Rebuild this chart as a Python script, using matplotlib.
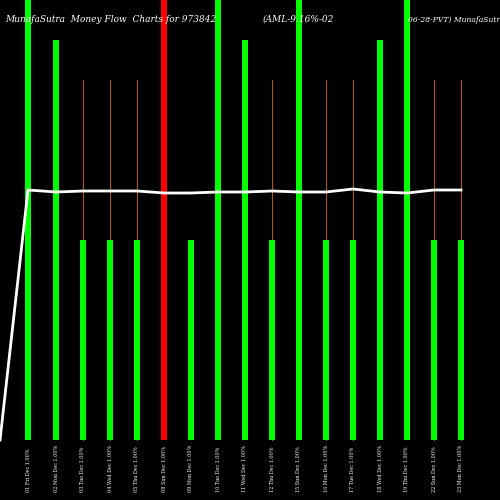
import matplotlib.pyplot as plt

# bar positions and heights (pixel-like scale, 0 = bottom)
xpos = [28, 56, 83, 110, 137, 164, 191, 218, 245, 272, 299, 326, 353, 380, 407, 434, 461]
heights = [440, 400, 200, 200, 200, 440, 200, 440, 400, 200, 440, 200, 200, 400, 440, 200, 200]
colors = ['lime', 'lime', 'lime', 'lime', 'lime', 'red', 'lime', 'lime', 'lime', 'lime',
          'lime', 'lime', 'lime', 'lime', 'lime', 'lime', 'lime']
wick = [0, 0, 360, 360, 360, 0, 0, 0, 0, 360, 0, 360, 360, 0, 0, 360, 360]
line_x = [0, 28, 56, 83, 110, 137, 164, 191, 218, 245, 272, 299, 326, 353, 380, 407, 434, 461]
line_y = [60, 310, 308, 309, 309, 309, 307, 307, 308, 308, 309, 308, 308, 311, 308, 307, 310, 310]
labels = ['01 Fri Dec 1.00%', '02 Mon Dec 1.00%', '03 Tue Dec 1.00%', '04 Wed Dec 1.00%',
          '05 Thu Dec 1.00%', '08 Sun Dec 1.00%', '09 Mon Dec 1.00%', '10 Tue Dec 1.00%',
          '11 Wed Dec 1.00%', '12 Thu Dec 1.00%', '15 Sun Dec 1.00%', '16 Mon Dec 1.00%',
          '17 Tue Dec 1.00%', '18 Wed Dec 1.00%', '19 Thu Dec 1.00%', '22 Sun Dec 1.00%',
          '23 Mon Dec 1.00%']

fig = plt.figure(figsize=(5, 5), dpi=100, facecolor='black')
ax = fig.add_axes([0, 0, 1, 1], facecolor='black')
ax.set_xlim(0, 500)
ax.set_ylim(0, 500)
ax.axis('off')

for x, w in zip(xpos, wick):
    if w:
        ax.plot([x, x], [60, 60 + w], color='#b05a00', lw=0.8, zorder=1)
ax.bar(xpos, heights, width=6, bottom=60, color=colors, zorder=2)
ax.plot(line_x, line_y, color='white', lw=2, zorder=3)

for x, lab in zip(xpos, labels):
    ax.text(x, 8, lab, rotation=90, color='white', fontsize=3.5, ha='center', va='bottom',
            family='DejaVu Serif')

ax.text(5, 478, 'MunafaSutra  Money Flow  Charts for 973842', color='white', fontsize=6.5,
        style='italic', family='DejaVu Serif')
ax.text(263, 478, '(AML-9.16%-02', color='white', fontsize=6.5, style='italic', family='DejaVu Serif')
ax.text(408, 478, '06-28-PVT) MunafaSutra.com', color='white', fontsize=5.5, style='italic',
        family='DejaVu Serif')

fig.savefig('out.png', facecolor='black')
